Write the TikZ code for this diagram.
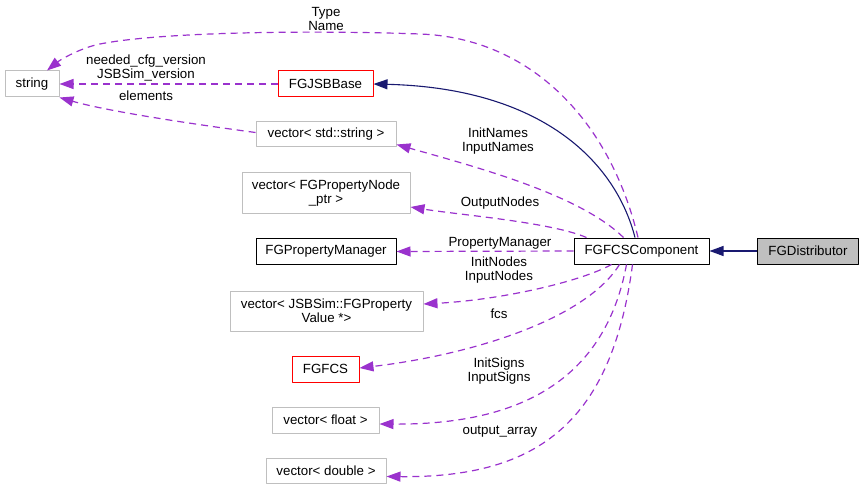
\documentclass[tikz,border=0pt]{standalone}
\usepackage{fontspec}
\setmainfont{Liberation Sans}
\usepackage{tikz}
\usetikzlibrary{arrows.meta}
\definecolor{dxpurple}{HTML}{9A32CD}
\definecolor{dxnavy}{HTML}{191970}
\definecolor{dxgray}{HTML}{BFBFBF}

\begin{document}
\begin{tikzpicture}[x=1pt,y=-1pt,line join=round,
  every node/.style={font=\fontsize{13.3}{14}\selectfont},
  cls/.style={draw=dxgray,line width=1pt,minimum height=26pt,inner sep=0pt,align=center},
  lbl/.style={inner sep=0pt,align=center},
  inh/.style={draw=dxnavy,line width=1.1pt,-{Triangle[length=14pt,width=10pt]}},
  memb/.style={draw=dxpurple,line width=1.2pt,dash pattern=on 7pt off 5pt,-{Triangle[length=14pt,width=10pt]}}]
  \useasboundingbox (0,0) rectangle (864,489);
  % classes
  \node[cls,minimum width=54pt] (STR) at (32,84) {string};
  \node[cls,draw=red,minimum width=95pt] (JSB) at (325.5,84) {FGJSBBase};
  \node[cls,minimum width=140pt,minimum height=25pt] (VSTR) at (326,134.5) {vector< std::string >};
  \node[cls,minimum width=168pt,minimum height=40pt] (VPN) at (326,193) {vector< FGPropertyNode\\\_ptr >};
  \node[cls,draw=black,minimum width=140pt] (PM) at (326,251.5) {FGPropertyManager};
  \node[cls,minimum width=193pt,minimum height=40pt] (VPV) at (326.5,311) {vector< JSBSim::FGProperty\\Value *>};
  \node[cls,draw=red,minimum width=67pt] (FCS) at (325.5,369) {FGFCS};
  \node[cls,minimum width=107pt] (VFL) at (325.5,420) {vector< float >};
  \node[cls,minimum width=120pt,minimum height=25pt] (VDB) at (326,470.5) {vector< double >};
  \node[cls,draw=black,minimum width=135pt] (COMP) at (641.5,251) {FGFCSComponent};
  \node[cls,draw=black,fill=dxgray,minimum width=101pt] (DIST) at (808,251) {FGDistributor};
  % inheritance
  \draw[inh] (DIST) -- (COMP);
  \draw[inh] ([xshift=-6.5pt]COMP.north) .. controls (615,160) and (540,88) .. (JSB.east);
  % members
  \draw[memb] ([xshift=-3.5pt]COMP.north) .. controls (610,120) and (530,38) .. (420,34)
    .. controls (310,30) and (160,32) .. (100,44)
    .. controls (80,48) and (60,60) .. ([xshift=15pt]STR.north);
  \draw[memb] (JSB.west) -- (STR.east);
  \draw[memb] ([yshift=2pt]VSTR.west) .. controls (200,125) and (110,112) .. (STR.south east);
  \draw[memb] ([xshift=-18pt]COMP.north) .. controls (580,195) and (480,168) .. ([yshift=-10pt]VSTR.east);
  \draw[memb] ([xshift=-55pt]COMP.north) .. controls (550,222) and (460,215) .. ([yshift=-14pt]VPN.east);
  \draw[memb] (COMP.west) -- (PM.east);
  \draw[memb] ([xshift=-30pt]COMP.south) .. controls (580,282) and (500,300) .. ([yshift=7pt]VPV.east);
  \draw[memb] ([xshift=-22pt]COMP.south) .. controls (585,320) and (470,355) .. ([yshift=1pt]FCS.east);
  \draw[memb] ([xshift=-15pt]COMP.south) .. controls (605,380) and (520,425) .. ([yshift=-4pt]VFL.east);
  \draw[memb] ([xshift=-9pt]COMP.south) .. controls (612,420) and (540,478) .. ([yshift=-6pt]VDB.east);
  % labels
  \node[lbl] (L1) at (326,19) {Type\\Name};
  \node[lbl] (L2) at (146,68) {needed\_cfg\_version\\JSBSim\_version};
  \node[lbl] (L3) at (146,96) {elements};
  \node[lbl] (L4) at (498,141) {InitNames\\InputNames};
  \node[lbl] (L5) at (500,203) {OutputNodes};
  \node[lbl] (L6) at (500,243) {PropertyManager};
  \node[lbl] (L7) at (499,270) {InitNodes\\InputNodes};
  \node[lbl] (L8) at (499,314) {fcs};
  \node[lbl] (L9) at (499,371) {InitSigns\\InputSigns};
  \node[lbl] (L10) at (500,432) {output\_array};
\end{tikzpicture}
\end{document}
